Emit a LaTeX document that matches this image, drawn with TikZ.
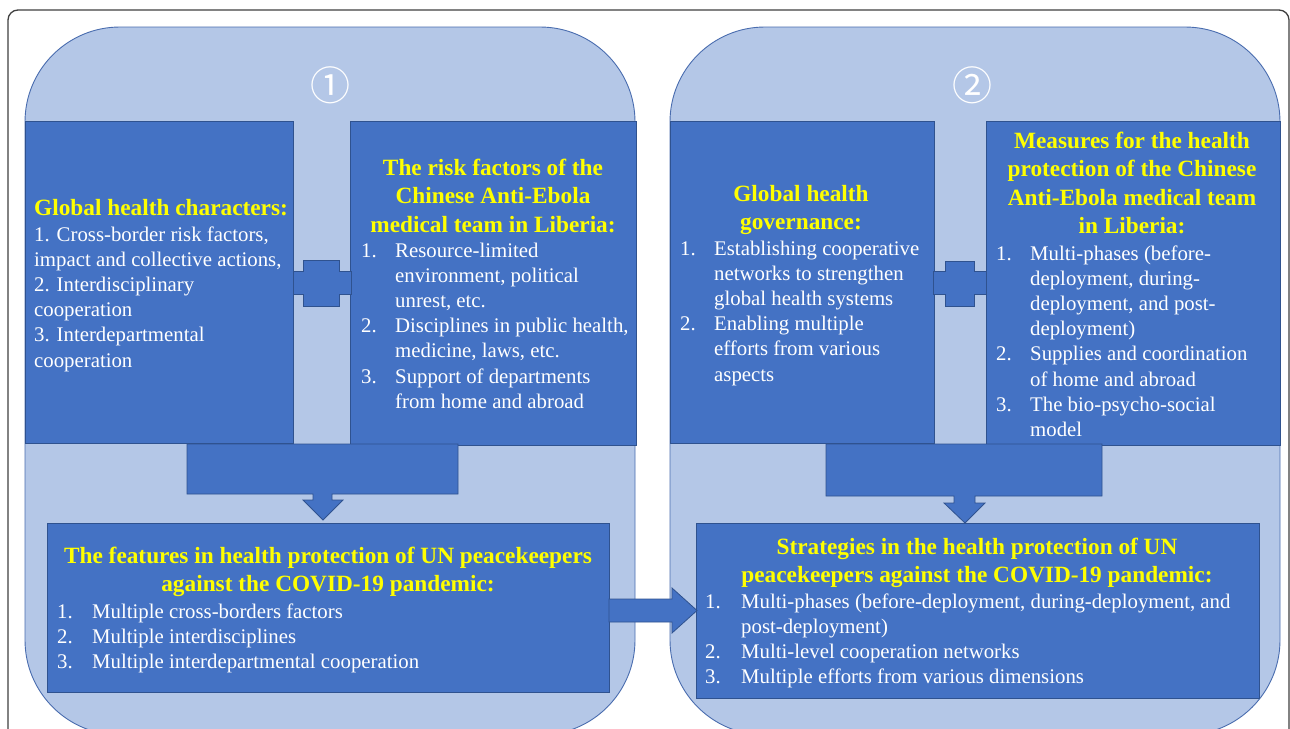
\documentclass[tikz,border=0pt]{standalone}
\usepackage{fontspec}
\setmainfont{Liberation Serif}
\newfontfamily\circfont{Noto Sans CJK SC}
\usepackage{array}
\definecolor{boxblue}{HTML}{4472C4}
\definecolor{lightblue}{HTML}{B4C7E7}
\definecolor{edgeblue}{HTML}{2F528F}
\definecolor{paneledge}{HTML}{4A6DAF}
\definecolor{titleyellow}{HTML}{FFFF00}
\definecolor{framegray}{HTML}{404040}
\begin{document}
\begin{tikzpicture}[x=1pt,y=-1pt,
  panel/.style={fill=lightblue, draw=paneledge, line width=0.9pt, rounded corners=95pt},
  box/.style={fill=boxblue, draw=edgeblue, line width=0.8pt, inner sep=0pt, anchor=north west},
  blockarrow/.style={fill=boxblue, draw=edgeblue, line width=0.8pt},
  ttl/.style={inner sep=0pt, text=titleyellow, font=\fontsize{23.3}{28.5}\selectfont\bfseries},
  bodyt/.style={inner sep=0pt, text=white, font=\fontsize{20.8}{25.2}\selectfont},
  circnum/.style={inner sep=0pt, text=white, font=\circfont\fontsize{40}{40}\selectfont}
]
\useasboundingbox (0,0) rectangle (1290,728);
\fill[white] (0,0) rectangle (1290,728);
% outer frame
\draw[framegray, line width=1.3pt, rounded corners=10pt] (8,10) rectangle (1289,780);
% panels
\draw[panel] (25,27) rectangle (635,735);
\draw[panel] (670,27) rectangle (1280,735);
\node[circnum] (n1) at (330,85) {①};
\node[circnum] (n2) at (972,85) {②};
% boxes
\node[box, minimum width=268pt, minimum height=322pt] (gA) at (25,121) {};
\node[box, minimum width=286pt, minimum height=324pt] (gB) at (350,121) {};
\node[box, minimum width=264pt, minimum height=322pt] (gC) at (670,121) {};
\node[box, minimum width=294pt, minimum height=324pt] (gD) at (986,121) {};
\node[box, minimum width=562pt, minimum height=169pt] (gF) at (47,523) {};
\node[box, minimum width=563pt, minimum height=175pt] (gS) at (696,523) {};
% plus connectors
\draw[blockarrow] (303,260) -- (339,260) -- (339,271) -- (351,271) -- (351,294) -- (339,294) -- (339,306) -- (303,306) -- (303,294) -- (293,294) -- (293,271) -- (303,271) -- cycle;
\draw[blockarrow] (945,261) -- (974,261) -- (974,271) -- (986,271) -- (986,294) -- (974,294) -- (974,306) -- (945,306) -- (945,294) -- (933,294) -- (933,271) -- (945,271) -- cycle;
% down arrows
\draw[blockarrow] (187,444) -- (458,444) -- (458,494) -- (332,494) -- (332,500) -- (343,500) -- (323,520) -- (303,500) -- (313,500) -- (313,494) -- (187,494) -- cycle;
\draw[blockarrow] (826,444) -- (1102,444) -- (1102,496) -- (975,496) -- (975,503) -- (985,503) -- (965,523) -- (944,503) -- (954,503) -- (954,496) -- (826,496) -- cycle;
% horizontal arrow
\draw[blockarrow] (609,599) -- (672,599) -- (672,588) -- (697,610.5) -- (672,633) -- (672,622) -- (609,622) -- cycle;
% texts box A
\node[ttl, anchor=base west] (tA) at (34,215) {Global health characters:};
\node[bodyt, anchor=base west] (lA) at (34,241) {\begin{tabular}[t]{@{}l@{}}1. Cross-border risk factors,\\ impact and collective actions,\\ 2. Interdisciplinary\\ cooperation\\ 3. Interdepartmental\\ cooperation\end{tabular}};
% box B
\node[ttl, anchor=base] (tB) at (493,175) {\begin{tabular}[t]{@{}c@{}}The risk factors of the\\ Chinese Anti-Ebola\\ medical team in Liberia:\end{tabular}};
\node[bodyt, anchor=base west] (lB) at (361,257) {\begin{tabular}[t]{@{}p{34pt}@{}l@{}}1. & Resource-limited\\ & environment, political\\ & unrest, etc.\\ 2. & Disciplines in public health,\\ & medicine, laws, etc.\\ 3. & Support of departments\\ & from home and abroad\end{tabular}};
% box C
\node[ttl, anchor=base] (tC) at (801,201) {\begin{tabular}[t]{@{}c@{}}Global health\\ governance:\end{tabular}};
\node[bodyt, anchor=base west] (lC) at (680,255) {\begin{tabular}[t]{@{}p{34pt}@{}l@{}}1. & Establishing cooperative\\ & networks to strengthen\\ & global health systems\\ 2. & Enabling multiple\\ & efforts from various\\ & aspects\end{tabular}};
% box D
\node[ttl, anchor=base] (tD) at (1132,148) {\begin{tabular}[t]{@{}c@{}}Measures for the health\\ protection of the Chinese\\ Anti-Ebola medical team\\ in Liberia:\end{tabular}};
\node[bodyt, anchor=base west] (lD) at (996,260) {\begin{tabular}[t]{@{}p{34pt}@{}l@{}}1. & Multi-phases (before-\\ & deployment, during-\\ & deployment, and post-\\ & deployment)\\ 2. & Supplies and coordination\\ & of home and abroad\\ 3. & The bio-psycho-social\\ & model\end{tabular}};
% features
\node[ttl, anchor=base] (tF) at (328,563) {\begin{tabular}[t]{@{}c@{}}The features in health protection of UN peacekeepers\\ against the COVID-19 pandemic:\end{tabular}};
\node[bodyt, anchor=base west] (lF) at (57,618) {\begin{tabular}[t]{@{}p{35pt}@{}l@{}}1. & Multiple cross-borders factors\\ 2. & Multiple interdisciplines\\ 3. & Multiple interdepartmental cooperation\end{tabular}};
% strategies
\node[ttl, anchor=base] (tS) at (977,554) {\begin{tabular}[t]{@{}c@{}}Strategies in the health protection of UN\\ peacekeepers against the COVID-19 pandemic:\end{tabular}};
\node[bodyt, anchor=base west] (lS) at (705,608) {\begin{tabular}[t]{@{}p{36pt}@{}l@{}}1. & Multi-phases (before-deployment, during-deployment, and\\ & post-deployment)\\ 2. & Multi-level cooperation networks\\ 3. & Multiple efforts from various dimensions\end{tabular}};
\end{tikzpicture}
\end{document}
